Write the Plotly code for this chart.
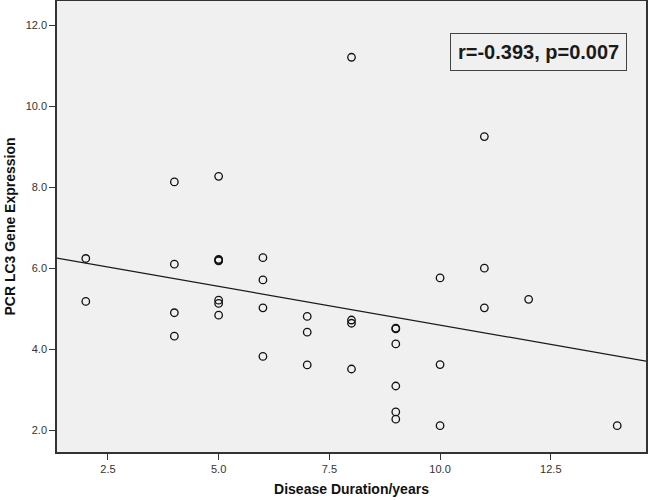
import numpy as np
import plotly.graph_objects as go

# Data
duration = [2, 2,
            4, 4, 4, 4,
            5, 5, 5, 5, 5, 5, 5,
            6, 6, 6, 6,
            7, 7, 7,
            8, 8, 8, 8,
            9, 9, 9, 9, 9, 9,
            10, 10, 10,
            11, 11, 11,
            12,
            14]
lc3 = [6.24, 5.18,
       8.13, 6.10, 4.90, 4.32,
       8.27, 6.22, 6.20, 6.18, 5.21, 5.13, 4.84,
       6.26, 5.71, 5.02, 3.82,
       4.81, 4.42, 3.61,
       11.21, 4.72, 4.64, 3.51,
       4.52, 4.50, 4.13, 3.09, 2.45, 2.27,
       5.76, 3.62, 2.11,
       9.25, 6.00, 5.02,
       5.23,
       2.11]
x_ticks = [2.5, 5.0, 7.5, 10.0, 12.5]
y_ticks = [2.0, 4.0, 6.0, 8.0, 10.0, 12.0]
x_range = [1.35, 14.65]
y_range = [1.46, 12.6]
stats_text = "r=-0.393, p=0.007"

slope, intercept = np.polyfit(duration, lc3, 1)
line_x = np.array(x_range)
line_y = intercept + slope * line_x

fig = go.Figure()
fig.add_trace(go.Scatter(
    x=line_x, y=line_y, mode="lines",
    line=dict(color="#1a1a1a", width=1.2), hoverinfo="skip", showlegend=False))
fig.add_trace(go.Scatter(
    x=duration, y=lc3, mode="markers",
    marker=dict(symbol="circle-open", size=7.5, color="#111111",
                line=dict(width=1.3, color="#111111")),
    showlegend=False))

fig.add_annotation(
    x=0.968, y=0.887, xref="paper", yref="paper", xanchor="right", yanchor="middle",
    text="<b>" + stats_text + "</b>", showarrow=False,
    font=dict(family="Liberation Sans Narrow, Arial Narrow, Liberation Sans, Arial", size=20, color="#1a1a1a"),
    bgcolor="#f0f0f0", bordercolor="#444444", borderwidth=1, borderpad=7)

axis_common = dict(showline=True, linecolor="#333333", linewidth=1.5, mirror=True,
                   showgrid=False, zeroline=False, ticks="outside", ticklen=6,
                   tickwidth=1.3, tickcolor="#333333", automargin=False,
                   tickfont=dict(family="Liberation Sans, Arial", size=11, color="#333333"))

fig.update_xaxes(range=x_range, tickvals=x_ticks, ticktext=[f"{v:.1f}" for v in x_ticks],
                 title=dict(text="<b>Disease Duration/years</b>", standoff=10,
                            font=dict(family="Liberation Sans, Arial", size=14, color="#111111")),
                 **axis_common)
fig.update_yaxes(range=y_range, tickvals=y_ticks, ticktext=[f"{v:.1f}" for v in y_ticks],
                 title=dict(text="<b>PCR LC3 Gene Expression</b>", standoff=7,
                            font=dict(family="Liberation Sans, Arial", size=14, color="#111111")),
                 **axis_common)

fig.update_layout(width=649, height=500, margin=dict(l=57, r=3, t=1, b=48),
                  paper_bgcolor="white", plot_bgcolor="#f0f0f0")

fig.write_html("out.html", config={"displayModeBar": False},
               post_script="document.body.style.margin='0';document.body.style.overflow='hidden';")
